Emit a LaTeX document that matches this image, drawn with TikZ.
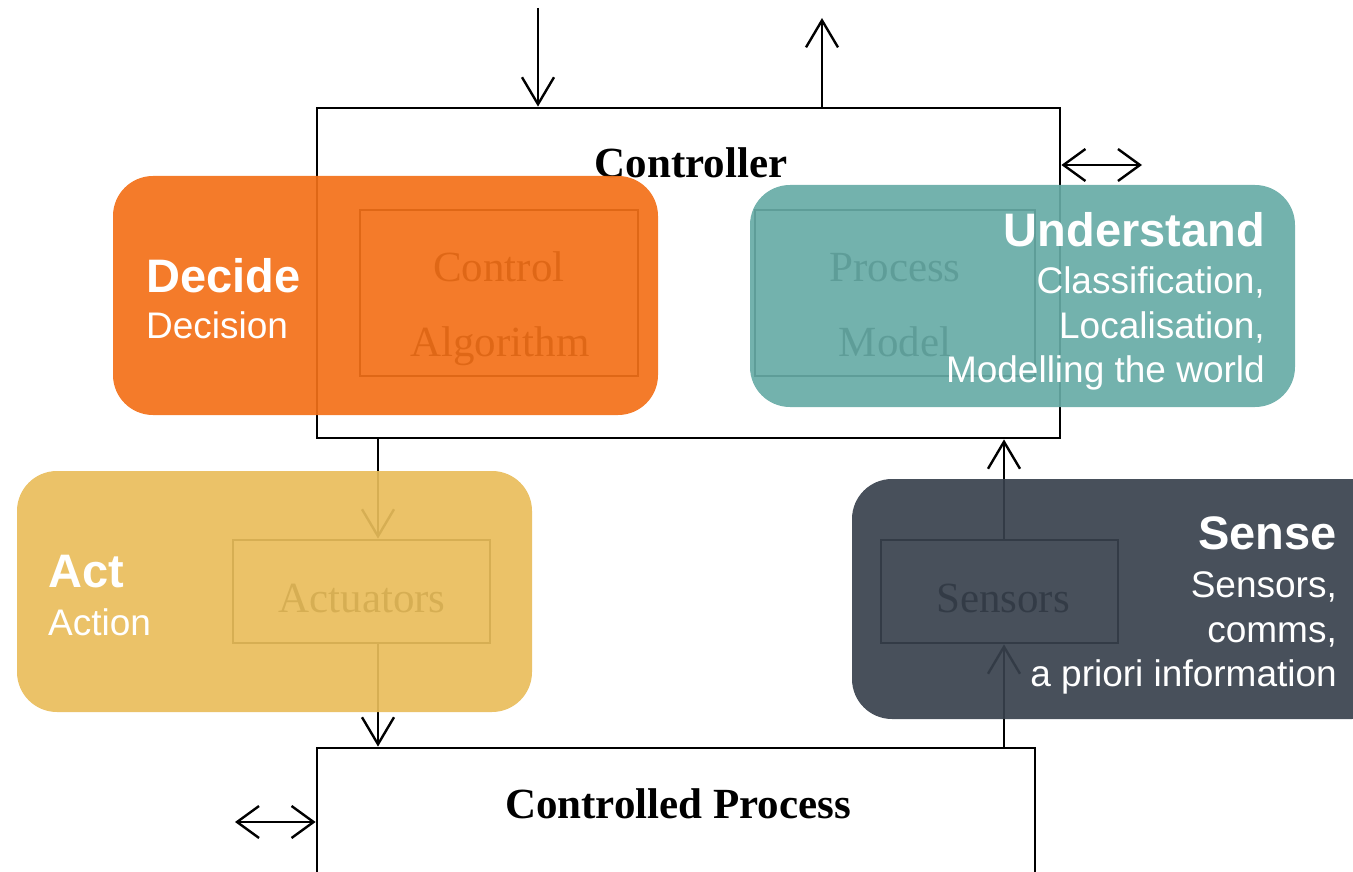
\documentclass[tikz,border=0pt]{standalone}
\usepackage{fontspec}
\setmainfont{Liberation Serif}
\newfontfamily\tagfont{Liberation Sans}
\usetikzlibrary{arrows.meta}
\definecolor{decideorange}{HTML}{F37018}
\definecolor{understandteal}{HTML}{67ABA6}
\definecolor{actyellow}{HTML}{E9BD5B}
\definecolor{senseslate}{HTML}{38414D}

\begin{document}
\begin{tikzpicture}[x=1pt,y=-1pt,
  block/.style={draw=black, line width=2.8pt, inner sep=0pt},
  flow/.style={line width=2.4pt, -{Straight Barb[length=27pt,width=32pt]}},
  both/.style={line width=2.4pt, {Straight Barb[length=22pt,width=32pt]}-{Straight Barb[length=22pt,width=32pt]}},
  title/.style={font=\fontsize{43}{50}\selectfont\bfseries, anchor=base, inner sep=0pt},
  inner/.style={font=\fontsize{43}{50}\selectfont, anchor=base, inner sep=0pt},
  panel/.style={rounded corners=40pt, fill opacity=0.92, inner sep=0pt},
  head/.style={text=white, font=\tagfont\bfseries\fontsize{47}{56}\selectfont, inner sep=0pt},
  sub/.style={text=white, font=\tagfont\fontsize{37}{45}\selectfont, inner sep=0pt}
]
\path[use as bounding box] (0,0) rectangle (1353,872);
\clip (0,0) rectangle (1353,872);

% control loop blocks
\node[block, minimum width=743pt, minimum height=330pt] (ctrl) at (688.5,273) {};
\node[block, minimum width=278pt, minimum height=166pt] (alg) at (499,293) {};
\node[block, minimum width=280pt, minimum height=166pt] (pm) at (895,293) {};
\node[block, minimum width=257pt, minimum height=103pt] (act) at (361.5,591.5) {};
\node[block, minimum width=237pt, minimum height=103pt] (sens) at (999.5,591.5) {};
\node[block, minimum width=718pt, minimum height=202pt] (proc) at (676,849) {};

\node[title] (ctrlT) at (691,178) {Controller};
\node[title] (procT) at (678,818) {Controlled Process};
\node[inner] (algA) at (499,281) {Control};
\node[inner] (algB) at (500,356) {Algorithm};
\node[inner] (pmA) at (895,281) {Process};
\node[inner] (pmB) at (895,356) {Model};
\node[inner] (actT) at (362,612) {Actuators};
\node[inner] (sensT) at (1003,612) {Sensors};

% signal lines
\coordinate (inT) at (538,8);
\coordinate (outT) at (822,18);
\coordinate (ax) at (378,0);
\coordinate (sx) at (1004,0);
\coordinate (xr) at (1142,165);
\coordinate (xl) at (235,822);
\draw[flow] (inT) -- (inT |- ctrl.north);
\draw[flow] (outT |- ctrl.north) -- (outT);
\draw[flow] (ctrl.south -| ax) -- (act.north -| ax);
\draw[flow] (act.south -| ax) -- (proc.north -| ax);
\draw[flow] (proc.north -| sx) -- (sens.south -| sx);
\draw[flow] (sens.north -| sx) -- (ctrl.south -| sx);
\draw[both] (ctrl.east |- xr) -- (xr);
\draw[both] (xl) -- (proc.west |- xl);

% coloured stage panels
\node[panel, fill=decideorange, minimum width=545pt, minimum height=239pt] (decide) at (385.5,295.5) {};
\node[panel, fill=understandteal, minimum width=545pt, minimum height=222pt] (understand) at (1022.5,296) {};
\node[panel, fill=actyellow, minimum width=515pt, minimum height=241pt] (actp) at (274.5,591.5) {};
\node[panel, fill=senseslate, minimum width=540pt, minimum height=240pt] (sense) at (1122,599) {};

\node[head, anchor=base west] (decideA) at (146,292) {Decide};
\node[sub, anchor=base west] (decideB) at (146,338) {Decision};

\node[head, anchor=base east] (undA) at (1265,247) {Understand};
\node[sub, anchor=base east] (undB) at (1265,293) {Classification,};
\node[sub, anchor=base east] (undC) at (1265,338) {Localisation,};
\node[sub, anchor=base east] (undD) at (1265,382) {Modelling the world};

\node[head, anchor=base west] (actA) at (48,587) {Act};
\node[sub, anchor=base west] (actB) at (48,635) {Action};

\node[head, anchor=base east] (senA) at (1337,549) {Sense};
\node[sub, anchor=base east] (senB) at (1337,597) {Sensors,};
\node[sub, anchor=base east] (senC) at (1337,642) {comms,};
\node[sub, anchor=base east] (senD) at (1337,686) {a priori information};
\end{tikzpicture}
\end{document}
